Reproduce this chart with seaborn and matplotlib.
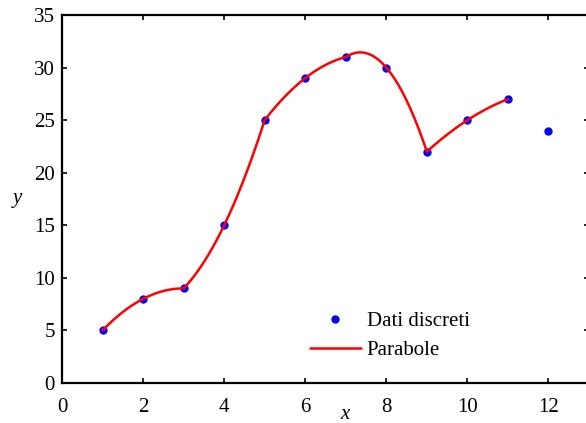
import numpy as np
import pandas as pd
import matplotlib
matplotlib.use("Agg")
import matplotlib.pyplot as plt
import seaborn as sns

x_data = [1, 2, 3, 4, 5, 6, 7, 8, 9, 10, 11, 12]
y_data = [5, 8, 9, 15, 25, 29, 31, 30, 22, 25, 27, 24]
x_ticks = [0, 2, 4, 6, 8, 10, 12]
y_ticks = [0, 5, 10, 15, 20, 25, 30, 35]
legend_labels = ["Dati discreti", "Parabole"]

sns.set_style("ticks")
plt.rcParams['font.family'] = ['Liberation Serif', 'DejaVu Serif']
for k in ['axes.edgecolor', 'text.color', 'xtick.color', 'ytick.color', 'axes.labelcolor']:
    plt.rcParams[k] = 'black'

FS = 15

fig = plt.figure(figsize=(5.86, 4.23), dpi=100)
ax = fig.add_axes([62 / 586, 1 - 383 / 423, (589 - 62) / 586, (383 - 15) / 423])

# piecewise parabolas through consecutive triples of points
xs, ys = [], []
xa = np.array(x_data, dtype=float)
ya = np.array(y_data, dtype=float)
for i in range(0, 10, 2):
    c = np.polyfit(xa[i:i + 3], ya[i:i + 3], 2)
    xx = np.linspace(xa[i], xa[i + 2], 60)
    xs.extend(xx)
    ys.extend(np.polyval(c, xx))
curve = pd.DataFrame({"x": xs, "y": ys})

ax.plot(x_data, y_data, 'o', color='blue', markersize=5, zorder=2,
        label=legend_labels[0])
sns.lineplot(data=curve, x="x", y="y", ax=ax, color="red", linewidth=1.8,
             sort=False, estimator=None, label=legend_labels[1], zorder=3)

ax.set_xlim(0, 13)
ax.set_ylim(0, 35)
ax.set_xticks(x_ticks)
ax.set_yticks(y_ticks)
ax.tick_params(direction='in', length=3.5, width=1.2, top=True, right=True,
               labelsize=FS, color='black', labelcolor='black')
ax.tick_params(axis='x', pad=11)
ax.tick_params(axis='y', pad=5)
for s in ax.spines.values():
    s.set_linewidth(1.6)
    s.set_color('black')
    s.set_visible(True)

ax.set_xlabel("x", fontsize=FS, style='italic', va='center', ha='center', color='black')
ax.xaxis.set_label_coords((345 - 62) / 527, (383 - 414) / 368)
ax.set_ylabel("y", fontsize=FS, style='italic', rotation=0, va='center', ha='center', color='black')
ax.yaxis.set_label_coords((17 - 62) / 527, 0.5)

h, l = ax.get_legend_handles_labels()
order = [l.index(legend_labels[0]), l.index(legend_labels[1])]
leg = ax.legend([h[i] for i in order], [l[i] for i in order],
                loc='upper left', bbox_to_anchor=(295 / 586, 1 - 297 / 423),
                bbox_transform=fig.transFigure, frameon=False, fontsize=FS,
                handlelength=2.45, handletextpad=0.29, labelspacing=0.45,
                borderpad=0.2)
for t in leg.get_texts():
    t.set_color('black')

fig.savefig("out.png", dpi=100)
